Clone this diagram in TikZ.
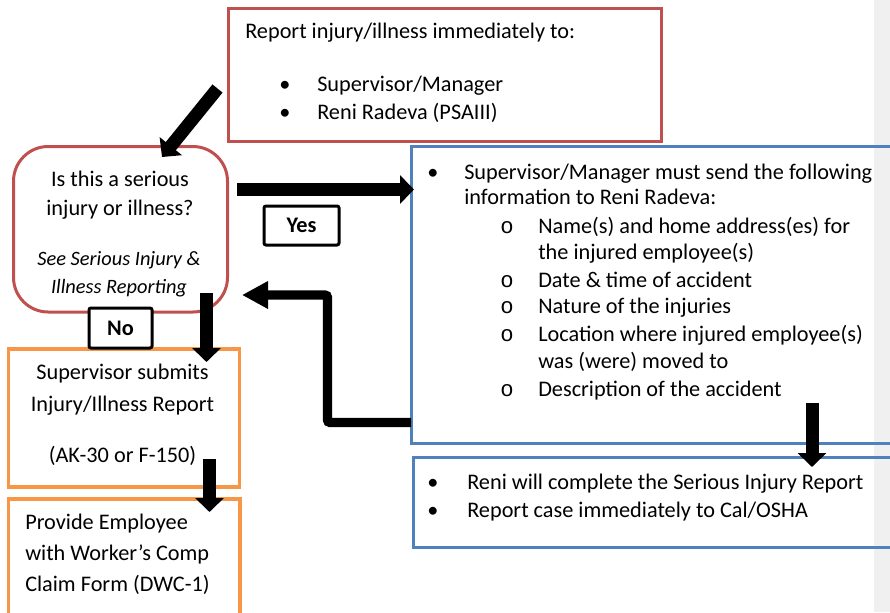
\documentclass[tikz,border=0pt]{standalone}
\usepackage{fontspec}
\setmainfont{Carlito}
\newfontfamily\subbulletfont{Liberation Mono}
\usetikzlibrary{arrows.meta,calc,positioning,fit}

\definecolor{boxred}{HTML}{C0504D}
\definecolor{boxblue}{HTML}{4F81BD}
\definecolor{boxorange}{HTML}{F79646}
\definecolor{pagegrey}{HTML}{F0F0F0}

\tikzset{
  box/.style={draw, line width=2.25pt, inner sep=0pt},
  redbox/.style={box, draw=boxred},
  bluebox/.style={box, draw=boxblue},
  orangebox/.style={box, draw=boxorange, line width=2.6pt},
  tagbox/.style={draw=black, fill=white, line width=2.25pt, rounded corners=1.5pt, inner sep=0pt},
  txt/.style={inner sep=0pt, anchor=base west},
  ctxt/.style={inner sep=0pt, anchor=base},
  note/.style={ctxt, font=\fontsize{15.3}{18}\selectfont\itshape},
  bigarrow/.style={line width=9.75pt, -{Triangle[length=10.5pt,width=21pt]}},
  backarrow/.style={line width=7pt, rounded corners=2pt, -{Triangle[length=19.5pt,width=19.5pt]}}
}

\begin{document}
\begin{tikzpicture}[x=0.75pt, y=-0.75pt, font=\fontsize{16.7}{20}\selectfont]
\useasboundingbox (0,0) rectangle (890,612);
\fill[pagegrey] (874,0) rectangle (890,612);

% Boxes
\node (report) [redbox, fit={(228,8) (661,141)}] {};
\node (serious) [redbox, rounded corners=26pt, fit={(13.5,146.5) (227.5,312)}] {};
\node (info) [bluebox, fit={(411.5,146) (896,443)}] {};
\node (reni) [bluebox, fit={(413,457) (896,547)}] {};
\node (submit) [orangebox, fit={(8.5,349) (239.5,487)}] {};
\node (claim) [orangebox, fit={(8.5,499) (240,622)}] {};
\node (yes) [tagbox, fit={(264,206) (339,245)}] {};
\node (no) [tagbox, fit={(89,308) (152,348)}] {};
\node (yestxt) [ctxt] at (yes.center) [yshift=-5.5pt] {\bfseries Yes};
\node (notxt) [ctxt] at (no.center) [yshift=-5.5pt] {\bfseries No};

% Report box
\node (rep1) [txt] at (245,38) {Report injury/illness immediately to:};
\node (repb1) [ctxt] at (285,91) {•};
\node (rep2) [txt] at (317,91) {Supervisor/Manager};
\node (repb2) [ctxt] at (285,119) {•};
\node (rep3) [txt] at (317,119) {Reni Radeva (PSAIII)};

% Question box
\node (q1) [ctxt] at (120,186) {Is this a serious};
\node (q2) [ctxt] at (120,215) {injury or illness?};
\node (q3) [note] at (119,265) {See Serious Injury \&};
\node (q4) [note] at (119,293) {Illness Reporting};

% Information box
\node (infob) [ctxt] at (433,179) {•};
\node (info1) [txt] at (464,179) {Supervisor/Manager must send the following};
\node (info2) [txt] at (464,204) {information to Reni Radeva:};
\foreach \y/\t [count=\i] in {233/{Name(s) and home address(es) for},
    287/{Date \& time of accident}, 313/{Nature of the injuries},
    341/{Location where injured employee(s)}, 396/{Description of the accident}} {
  \node (subb\i) [ctxt] at (507,\y) {\subbulletfont o};
  \node (sub\i) [txt] at (538,\y) {\t};
}
\node (sub1b) [txt] at (538,259) {the injured employee(s)};
\node (sub4b) [txt] at (538,368) {was (were) moved to};

% Reni box
\node (renib1) [ctxt] at (433,489) {•};
\node (reni1) [txt] at (467,489) {Reni will complete the Serious Injury Report};
\node (renib2) [ctxt] at (433,517) {•};
\node (reni2) [txt] at (467,517) {Report case immediately to Cal/OSHA};

% Orange boxes
\node (sub1) [ctxt] at (122.5,379) {Supervisor submits};
\node (sub2) [ctxt] at (122.5,411) {Injury/Illness Report};
\node (sub3) [ctxt] at (122.5,462) {(AK-30 or F-150)};
\node (cl1) [txt] at (25,529) {Provide Employee};
\node (cl2) [txt] at (25,560) {with Worker’s Comp};
\node (cl3) [txt] at (25,591) {Claim Form (DWC-1)};

% Arrow ends
\coordinate (diagS) at (217.5,88.5);
\coordinate (diagE) at (162,157);
\coordinate (yesS) at (237,189.5);
\coordinate (yesE) at (414,189.5);
\coordinate (backS) at (411,422.5);
\coordinate (backE) at (242,295);
\coordinate (noS) at (206.5,293);
\coordinate (noE) at (206.5,362);
\coordinate (formS) at (209.5,459);
\coordinate (formE) at (209.5,512);
\coordinate (reniS) at (812,403);
\coordinate (reniE) at (812,467);

% Arrows
\draw[bigarrow] (diagS) -- (diagE);
\draw[bigarrow] (yesS) -- (yesE);
\draw[backarrow] (backS) -- (backS -| 327.5,0) -- (backE -| 327.5,0) -- (backE);
\draw[bigarrow] (noS) -- (noE);
\draw[bigarrow] (formS) -- (formE);
\draw[bigarrow] (reniS) -- (reniE);
\end{tikzpicture}
\end{document}
